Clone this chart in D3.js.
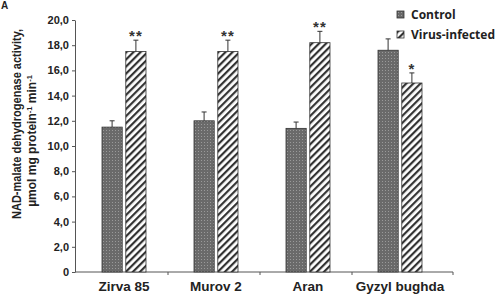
<!DOCTYPE html>
<html>
<head>
<meta charset="utf-8">
<script src="https://cdn.jsdelivr.net/npm/d3@7"></script>
<style>
  body { margin: 0; background: #fff; }
  svg { display: block; }
</style>
</head>
<body>
<svg width="498" height="295"></svg>
<script>
const width = 498,
  height = 295;

// data
const cultivars = ["Zirva 85", "Murov 2", "Aran", "Gyzyl bughda"];
const groups = ["Control", "Virus-infected"];
const controlValues = [11.5, 12.0, 11.4, 17.6];
const controlErrors = [0.5, 0.7, 0.5, 0.9];
const virusValues = [17.5, 17.5, 18.2, 15.0];
const virusErrors = [0.9, 0.9, 0.9, 0.8];
const stars = ["**", "**", "**", "*"];
const yTicks = [0, 2, 4, 6, 8, 10, 12, 14, 16, 18, 20];

const svg = d3.select("svg").attr("font-family", "'Liberation Sans', Arial, sans-serif");

// fills
const defs = svg.append("defs");
const dots = defs
  .append("pattern")
  .attr("id", "dots")
  .attr("width", 3)
  .attr("height", 3)
  .attr("patternUnits", "userSpaceOnUse");
dots.append("rect").attr("width", 3).attr("height", 3).attr("fill", "#6a6a6a");
dots.append("rect").attr("x", 1).attr("y", 1).attr("width", 1).attr("height", 1).attr("fill", "#9a9a9a");

const hatch = defs
  .append("pattern")
  .attr("id", "hatch")
  .attr("width", 5)
  .attr("height", 5)
  .attr("patternUnits", "userSpaceOnUse")
  .attr("patternTransform", "rotate(45)");
hatch.append("rect").attr("width", 5).attr("height", 5).attr("fill", "#fff");
hatch.append("line").attr("x1", 1).attr("x2", 1).attr("y1", 0).attr("y2", 5)
  .attr("stroke", "#333").attr("stroke-width", 2.4);

const fills = ["url(#dots)", "url(#hatch)"];

const rows = cultivars.map((c, i) => ({
  name: c,
  star: stars[i],
  bars: [
    { g: 0, value: controlValues[i], err: controlErrors[i] },
    { g: 1, value: virusValues[i], err: virusErrors[i] },
  ],
}));

const plotLeft = 75,
  plotTop = 20,
  plotBottom = 272;

const y = d3.scaleLinear().domain([0, 20]).range([plotBottom, plotTop]);

const x0 = d3.scaleBand().domain(cultivars).range([78, 446]);
const x1 = d3
  .scaleBand()
  .domain([0, 1])
  .range([x0.bandwidth() / 2 - 22, x0.bandwidth() / 2 + 22])
  .paddingInner(0.15);

// y axis
const yAxis = svg
  .append("g")
  .attr("transform", `translate(${plotLeft},0)`)
  .call(
    d3.axisLeft(y)
      .tickValues(yTicks)
      .tickSize(3)
      .tickSizeOuter(0)
      .tickFormat((d) => (d === 0 ? "0" : d.toFixed(1).replace(".", ",")))
  );
yAxis.select(".domain").attr("stroke", "#555");
yAxis.selectAll(".tick line").attr("stroke", "#555");
yAxis.selectAll("text")
  .attr("font-size", 11)
  .attr("font-weight", "bold")
  .attr("fill", "#222")
  .attr("x", -6);

// x axis line + separators
svg.append("line")
  .attr("x1", plotLeft).attr("x2", 453)
  .attr("y1", plotBottom).attr("y2", plotBottom)
  .attr("stroke", "#555");
svg.append("g")
  .selectAll("line")
  .data(cultivars.slice(1).concat(["end"]))
  .join("line")
  .attr("x1", (d) => (d === "end" ? 453 : x0(d) - 2))
  .attr("x2", (d) => (d === "end" ? 453 : x0(d) - 2))
  .attr("y1", plotBottom)
  .attr("y2", plotBottom + 3)
  .attr("stroke", "#555");

// bars
const grp = svg.append("g")
  .selectAll("g")
  .data(rows)
  .join("g")
  .attr("transform", (d) => `translate(${x0(d.name)},0)`);

grp.selectAll("rect")
  .data((d) => d.bars)
  .join("rect")
  .attr("x", (d) => x1(d.g))
  .attr("y", (d) => y(d.value))
  .attr("width", x1.bandwidth())
  .attr("height", (d) => y(0) - y(d.value))
  .attr("fill", (d) => fills[d.g])
  .attr("stroke", "#333")
  .attr("stroke-width", 0.8);

// error bars (upper only)
grp.selectAll("path.err")
  .data((d) => d.bars)
  .join("path")
  .attr("class", "err")
  .attr("fill", "none")
  .attr("stroke", "#333")
  .attr("stroke-width", 1)
  .attr("d", (d) => {
    const cx = x1(d.g) + x1.bandwidth() / 2;
    const top = y(d.value + d.err);
    return `M${cx},${y(d.value)}V${top}M${cx - 2.5},${top}H${cx + 2.5}`;
  });

// significance stars
grp.append("text")
  .attr("x", x1(1) + x1.bandwidth() / 2)
  .attr("y", (d) => y(d.bars[1].value + d.bars[1].err) + 1)
  .attr("text-anchor", "middle")
  .attr("font-size", 15)
  .attr("font-weight", "bold")
  .attr("letter-spacing", 1)
  .attr("fill", "#333")
  .text((d) => d.star);

// category labels
svg.append("g")
  .selectAll("text")
  .data(cultivars)
  .join("text")
  .attr("x", (d) => x0(d) + x0.bandwidth() / 2)
  .attr("y", 291)
  .attr("text-anchor", "middle")
  .attr("font-size", 13.5)
  .attr("font-weight", "bold")
  .attr("fill", "#222")
  .text((d) => d);

// y label (two lines, stretched to the reference's length)
svg.append("text")
  .attr("transform", "rotate(-90)")
  .attr("x", -124)
  .attr("y", 21)
  .attr("text-anchor", "middle")
  .attr("font-size", 12)
  .attr("font-weight", "bold")
  .attr("fill", "#222")
  .attr("textLength", 190)
  .attr("lengthAdjust", "spacingAndGlyphs")
  .text("NAD-malate dehydrogenase activity,");

const l2 = svg.append("text")
  .attr("transform", "rotate(-90)")
  .attr("x", -141)
  .attr("y", 36)
  .attr("text-anchor", "middle")
  .attr("font-size", 12)
  .attr("font-weight", "bold")
  .attr("fill", "#222");
l2.append("tspan").text("µmol mg protein");
l2.append("tspan").attr("dy", -4).attr("font-size", 7.5).text("-1");
l2.append("tspan").attr("dy", 4).text(" min");
l2.append("tspan").attr("dy", -4).attr("font-size", 7.5).text("-1");

// legend
const legend = svg.append("g")
  .selectAll("g")
  .data(groups)
  .join("g")
  .attr("transform", (d, i) => `translate(397,${11 + i * 20})`);
legend.append("rect")
  .attr("width", 7)
  .attr("height", 7)
  .attr("fill", (d, i) => fills[i])
  .attr("stroke", "#333")
  .attr("stroke-width", 0.8);
legend.append("text")
  .attr("x", 14)
  .attr("y", 7.5)
  .attr("font-family", "'Open Sans', sans-serif")
  .attr("font-size", 12)
  .attr("font-weight", "bold")
  .attr("fill", "#222")
  .text((d) => d);

// panel letter
svg.append("text")
  .attr("x", 1)
  .attr("y", 9)
  .attr("font-size", 10)
  .attr("font-weight", "bold")
  .attr("fill", "#222")
  .text("A");
</script>
</body>
</html>
